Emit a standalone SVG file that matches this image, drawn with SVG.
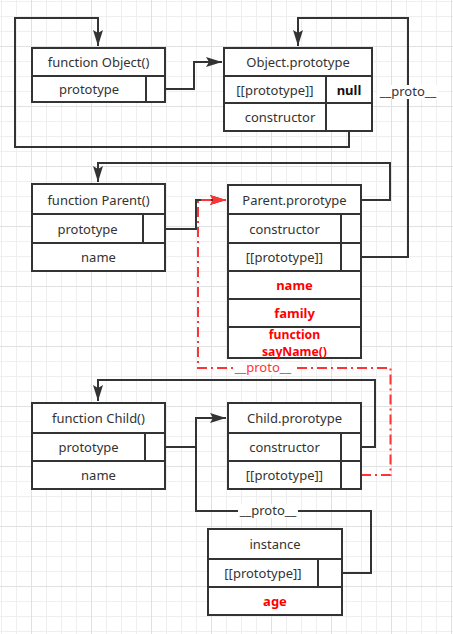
<svg xmlns="http://www.w3.org/2000/svg" width="453" height="634" viewBox="0 0 453 634">
<style>
.box{fill:#fff;stroke:#333;stroke-width:2}
.div{stroke:#333;stroke-width:2;fill:none}
.t{font-family:"Noto Sans","Liberation Sans",sans-serif;font-size:13px;fill:#333;text-anchor:middle;dominant-baseline:central}
.b{font-weight:bold;fill:#111}
.r{font-weight:bold;fill:#ff0000}
.s{font-size:12.2px}
.edge{fill:none;stroke:#333;stroke-width:2}
.red{fill:none;stroke:#ff3333;stroke-width:2;stroke-dasharray:10 4 2 4}
.lbl{fill:#fff}
</style>
<defs>
<pattern id="g15" width="15" height="15" x="1" y="1" patternUnits="userSpaceOnUse"><path d="M0 0.5H15M0.5 0V15" stroke="#efefef" stroke-width="1" fill="none"/></pattern>
<pattern id="g60" width="60" height="60" x="31" y="46" patternUnits="userSpaceOnUse"><path d="M0 0.5H60M0.5 0V60" stroke="#e1e1e1" stroke-width="1" fill="none"/></pattern>
<marker id="ah" markerUnits="userSpaceOnUse" viewBox="0 0 16 10" refX="16" refY="5" markerWidth="16" markerHeight="10" orient="auto"><path d="M0 0L16 5L0 10L3 5Z" fill="#333"/></marker>
<marker id="ahr" markerUnits="userSpaceOnUse" viewBox="0 0 16 10" refX="16" refY="5" markerWidth="16" markerHeight="10" orient="auto"><path d="M0 0L16 5L0 10L3 5Z" fill="#ff3333"/></marker>
</defs>
<rect width="453" height="634" fill="#fff"/>
<rect width="453" height="634" fill="url(#g15)"/>
<rect width="453" height="634" fill="url(#g60)"/>

<g id="connectors">
<path class="edge" d="M165 89H194V62H222" marker-end="url(#ah)"/>
<path class="edge" d="M349 131V147H15V18H98V46" marker-end="url(#ah)"/>
<path class="edge" d="M361 257H408V18H298V46" marker-end="url(#ah)"/>
<path class="edge" d="M361 200H390V163H98V182" marker-end="url(#ah)"/>
<path class="edge" d="M165 229H196V200H226" marker-end="url(#ah)"/>
<path class="edge" d="M361 447H375V380H98V401" marker-end="url(#ah)"/>
<path class="edge" d="M165 447H196V418H226" marker-end="url(#ah)"/>
<path class="edge" d="M342 573H371V511H196V447"/>
<path class="red" d="M361 475H390.5V368H198V200H226" marker-end="url(#ahr)"/>
<rect class="lbl" x="378" y="85" width="60" height="14"/>
<text class="t" x="408" y="91">__proto__</text>
<rect class="lbl" x="233" y="362" width="60" height="13"/>
<text class="t" x="263" y="367" style="fill:#ff3333">__proto__</text>
<rect class="lbl" x="238" y="504" width="60" height="14"/>
<text class="t" x="268" y="510">__proto__</text>
</g>

<g id="object-fn">
<rect class="box" x="32" y="48" width="133" height="54"/>
<path class="div" d="M32 76H165M146 76V102"/>
<text class="t" x="98.5" y="62">function Object()</text>
<text class="t" x="89" y="89">prototype</text>
</g>

<g id="object-prototype">
<rect class="box" x="224" y="48" width="148" height="83"/>
<path class="div" d="M224 76H372M224 103H372M326 76V131"/>
<text class="t" x="298" y="62">Object.prototype</text>
<text class="t" x="275" y="90">[[prototype]]</text>
<text class="t b" x="349" y="90">null</text>
<text class="t" x="280" y="117">constructor</text>
</g>

<g id="parent-fn">
<rect class="box" x="32" y="184" width="133" height="87"/>
<path class="div" d="M32 214H165M32 243H165M143 214V243"/>
<text class="t" x="98.5" y="200">function Parent()</text>
<text class="t" x="87.5" y="229">prototype</text>
<text class="t" x="98.5" y="257">name</text>
</g>

<g id="parent-prototype">
<rect class="box" x="228" y="185" width="133" height="173"/>
<path class="div" d="M228 214H361M228 243H361M228 271H361M228 299H361M228 327H361M341 214V271"/>
<text class="t" x="294.5" y="200">Parent.prorotype</text>
<text class="t" x="284.5" y="229">constructor</text>
<text class="t" x="284.5" y="257">[[prototype]]</text>
<text class="t r" x="294.5" y="285">name</text>
<text class="t r" x="294.5" y="313">family</text>
<text class="t r s" x="294.5" y="334.5">function</text>
<text class="t r s" x="294.5" y="351.5">sayName()</text>
</g>

<g id="child-fn">
<rect class="box" x="32" y="403" width="133" height="86"/>
<path class="div" d="M32 433H165M32 461H165M145 433V461"/>
<text class="t" x="98.5" y="418">function Child()</text>
<text class="t" x="88.5" y="447">prototype</text>
<text class="t" x="98.5" y="475">name</text>
</g>

<g id="child-prototype">
<rect class="box" x="228" y="403" width="133" height="86"/>
<path class="div" d="M228 433H361M228 461H361M341 433V489"/>
<text class="t" x="294.5" y="418">Child.prorotype</text>
<text class="t" x="284.5" y="447">constructor</text>
<text class="t" x="284.5" y="475">[[prototype]]</text>
</g>

<g id="instance">
<rect class="box" x="208" y="529" width="134" height="86"/>
<path class="div" d="M208 559H342M208 587H342M318 559V587"/>
<text class="t" x="275" y="544">instance</text>
<text class="t" x="263" y="573">[[prototype]]</text>
<text class="t r" x="275" y="601">age</text>
</g>
</svg>
